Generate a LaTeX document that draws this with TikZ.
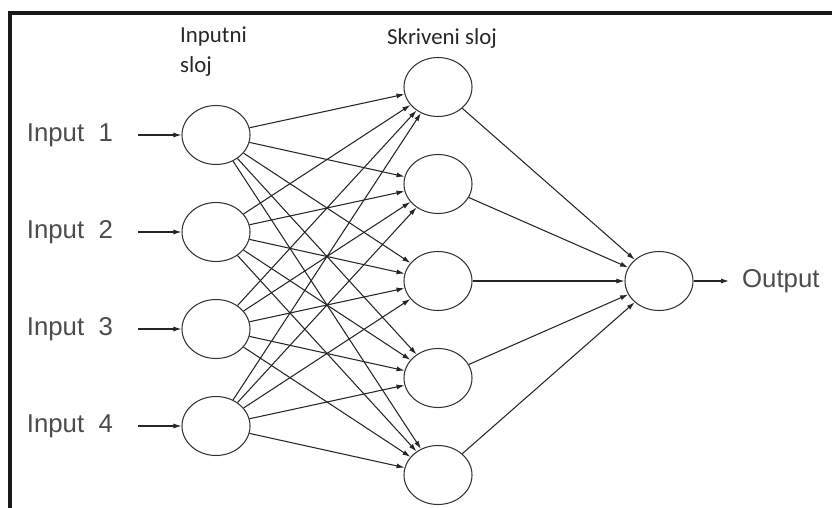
\documentclass[tikz,border=0pt]{standalone}
\usepackage{fontspec}
\setmainfont{Liberation Sans}
\newfontfamily\layerfont{Carlito}
\usetikzlibrary{arrows.meta}
\usetikzlibrary{shapes.geometric}
\tikzset{
neuron/.style={ellipse, draw=black!80, line width=0.9pt, minimum width=2.04cm, minimum height=1.77cm, inner sep=0pt},
conn/.style={draw=black!85, line width=0.9pt, -{Latex[length=0.24cm,width=0.15cm]}},
iolabel/.style={text=black!70, font=\fontsize{22}{26}\selectfont},
layerlabel/.style={text=black!85, font=\layerfont\fontsize{19.5}{25}\selectfont, align=left}
}
\begin{document}
\begin{tikzpicture}[x=0.03cm,y=-0.03cm]

                % picture size 832 x 508 (px), y downwards
                \useasboundingbox (0,0) rectangle (832,508);
                \fill[white] (0,0) rectangle (832,508);

                % frame
                \draw[line width=2.6pt, black!90] (10,510) -- (10,13) -- (840,13);

                % layer titles
                \node[layerlabel, anchor=north west] (tIn) at (176,23) {Inputni\\sloj};
                \node[layerlabel, anchor=west] (tHid) at (383,39) {Skriveni sloj};

                % input layer
                \foreach \i/\y in {1/135,2/232,3/329,4/426}{
                    \node[neuron] (I\i) at (216,\y) {};
                    \node[iolabel, anchor=east] (L\i) at (117,\y) {Input\ \ \i};
                    \coordinate (s\i) at (138,\y);
                    \draw[conn] (s\i) -- (I\i);
                }

                % hidden layer
                \foreach \j/\y in {1/87,2/184,3/281,4/378,5/475}{
                    \node[neuron] (H\j) at (438,\y) {};
                }

                % output
                \node[neuron] (O) at (659,281) {};
                \coordinate (e) at (729,281);
                \node[iolabel, anchor=west] (Out) at (738,281) {Output};
                \draw[conn] (O) -- (e);

                % connections
                \foreach \i in {1,...,4}{
                    \foreach \j in {1,...,5}{
                        \draw[conn] (I\i) -- (H\j);
                    }
                }
                \foreach \j in {1,...,5}{
                    \draw[conn] (H\j) -- (O);
                }

            \end{tikzpicture}
\end{document}
